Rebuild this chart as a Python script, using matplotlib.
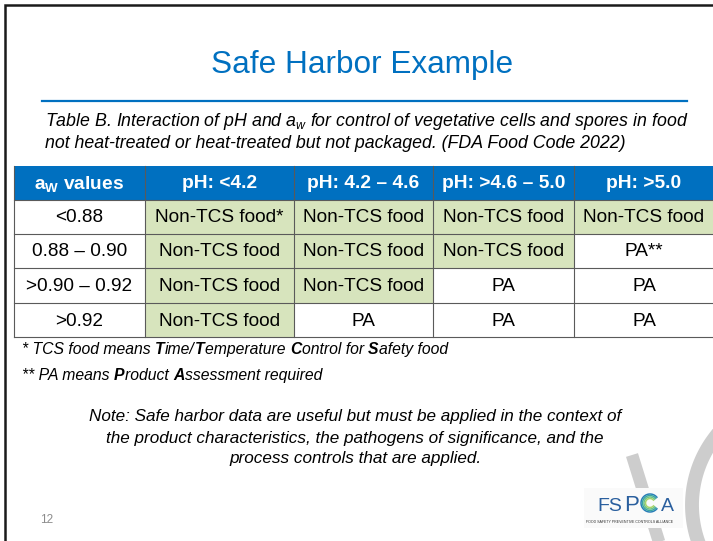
import numpy as np
import matplotlib.pyplot as plt
from matplotlib.patches import Rectangle

plt.rcParams['font.family'] = ['Liberation Sans', 'DejaVu Sans']
plt.rcParams['mathtext.fontset'] = 'custom'
plt.rcParams['mathtext.rm'] = 'Liberation Sans'
plt.rcParams['mathtext.it'] = 'Liberation Sans:italic'
plt.rcParams['mathtext.bf'] = 'Liberation Sans:bold'

# table content
aw_values = ['<0.88', '0.88 – 0.90', '>0.90 – 0.92', '>0.92']
ph_headers = ['pH: <4.2', 'pH: 4.2 – 4.6', 'pH: >4.6 – 5.0', 'pH: >5.0']
cells = [
    ['Non-TCS food*', 'Non-TCS food', 'Non-TCS food', 'Non-TCS food'],
    ['Non-TCS food', 'Non-TCS food', 'Non-TCS food', 'PA**'],
    ['Non-TCS food', 'Non-TCS food', 'PA', 'PA'],
    ['Non-TCS food', 'PA', 'PA', 'PA'],
]

BLUE = '#0070C0'
GREEN = '#D7E4BD'
GRID = '#5a5a5a'

fig = plt.figure(figsize=(7.13, 5.41), dpi=100)
ax = fig.add_axes([0, 0, 1, 1])
ax.set_xlim(0, 713)
ax.set_ylim(541, 0)
ax.axis('off')
renderer = fig.canvas.get_renderer()

# slide frame
ax.plot([4.5, 4.5, 713], [541, 4.5, 4.5], color='#1a1a1a', lw=1.8, solid_joinstyle='miter')

# title + rule
ax.text(362, 73, 'Safe Harbor Example', fontsize=22.7, color=BLUE, ha='center', va='baseline')
ax.plot([42, 687], [101, 101], color=BLUE, lw=1.6)

ax.text(45, 122, r'Table B. Interaction of pH and $\mathit{a_w}$ for control of vegetative cells and spores in food',
        fontsize=12.8, style='italic', va='center')
ax.text(45, 144, 'not heat-treated or heat-treated but not packaged. (FDA Food Code 2022)',
        fontsize=12.8, style='italic', va='center')

# table geometry
col_edges = [14, 145, 294, 433, 574, 714]
row_edges = [166, 200, 234, 268, 303, 337]

# header
for j in range(5):
    x0, x1 = col_edges[j], col_edges[j + 1]
    ax.add_patch(Rectangle((x0, row_edges[0]), x1 - x0, row_edges[1] - row_edges[0],
                           facecolor=BLUE, edgecolor='none'))
    label = r'$\mathbf{a_W}$ values' if j == 0 else ph_headers[j - 1]
    ax.text((x0 + x1) / 2, (row_edges[0] + row_edges[1]) / 2 + 1, label, color='white',
            fontsize=13.8, weight='bold', ha='center', va='center')

# body
for i, aw in enumerate(aw_values):
    y0, y1 = row_edges[i + 1], row_edges[i + 2]
    row = [aw] + cells[i]
    for j, val in enumerate(row):
        x0, x1 = col_edges[j], col_edges[j + 1]
        fc = GREEN if val.startswith('Non-TCS') else 'white'
        ax.add_patch(Rectangle((x0, y0), x1 - x0, y1 - y0, facecolor=fc, edgecolor='none'))
        ax.text((x0 + x1) / 2, (y0 + y1) / 2 + 1, val, fontsize=13.7, ha='center', va='center')

# grid lines
for x in col_edges:
    ax.plot([x, x], [row_edges[0], row_edges[-1]], color=GRID, lw=0.8)
for y in row_edges[1:]:
    ax.plot([col_edges[0], col_edges[-1]], [y, y], color=GRID, lw=0.8)


def runs_text(x, y, runs, size):
    bar = ax.text(0, 0, '||', fontsize=size, style='italic')
    wbar = bar.get_window_extent(renderer).width
    bar.remove()
    for s, bold in runs:
        w = 'bold' if bold else 'normal'
        tmp = ax.text(0, 0, '|' + s + '|', fontsize=size, style='italic', weight=w)
        width = tmp.get_window_extent(renderer).width - wbar
        tmp.remove()
        ax.text(x, y, s, fontsize=size, style='italic', weight=w, va='baseline')
        x += width


runs_text(22, 354, [('* TCS food means ', False), ('T', True), ('ime/', False), ('T', True),
                    ('emperature ', False), ('C', True), ('ontrol for ', False), ('S', True),
                    ('afety food', False)], 11.3)
runs_text(22, 380, [('** PA means ', False), ('P', True), ('roduct ', False), ('A', True),
                    ('ssessment required', False)], 11.3)

note = ['Note: Safe harbor data are useful but must be applied in the context of',
        'the product characteristics, the pathogens of significance, and the',
        'process controls that are applied.']
for k, line in enumerate(note):
    ax.text(355, 417 + 21 * k, line, fontsize=12.3, style='italic', ha='center', va='center')

# page number
ax.text(40, 520, '12', fontsize=8.5, color='#8c8c8c', va='center')

# watermark strokes
ax.plot([632, 660], [455, 545], color='#cdcdcd', lw=9, solid_capstyle='butt', zorder=0)
t = np.radians(np.linspace(138, 202, 60))
ax.plot(803 + 111 * np.cos(t), 505 - 111 * np.sin(t), color='#cdcdcd', lw=10, zorder=0)

# logo
ax.add_patch(Rectangle((584, 488), 99, 40, facecolor='#fafafa', edgecolor='none', zorder=1))
ax.text(597, 511, 'FS', fontsize=14, color='#2a5f9e', va='baseline', zorder=2)
ax.text(624, 511, 'P', fontsize=16, color='#2a5f9e', va='baseline', zorder=2)
tt = np.radians(np.linspace(40, 320, 40))
for r, c in zip([9, 7.5, 6, 4.5], ['#2a7fb8', '#3aa6a0', '#6cc08a', '#a8d468']):
    ax.plot(650 + r * np.cos(tt), 503 - r * np.sin(tt), color=c, lw=1.1, zorder=2)
ax.text(661, 511, 'A', fontsize=14, color='#2a5f9e', va='baseline', zorder=2)
ax.text(630, 522, 'FOOD SAFETY PREVENTIVE CONTROLS ALLIANCE', fontsize=2.6, color='#333333',
        ha='center', va='center', zorder=2)

fig.savefig('out.png', dpi=100)
